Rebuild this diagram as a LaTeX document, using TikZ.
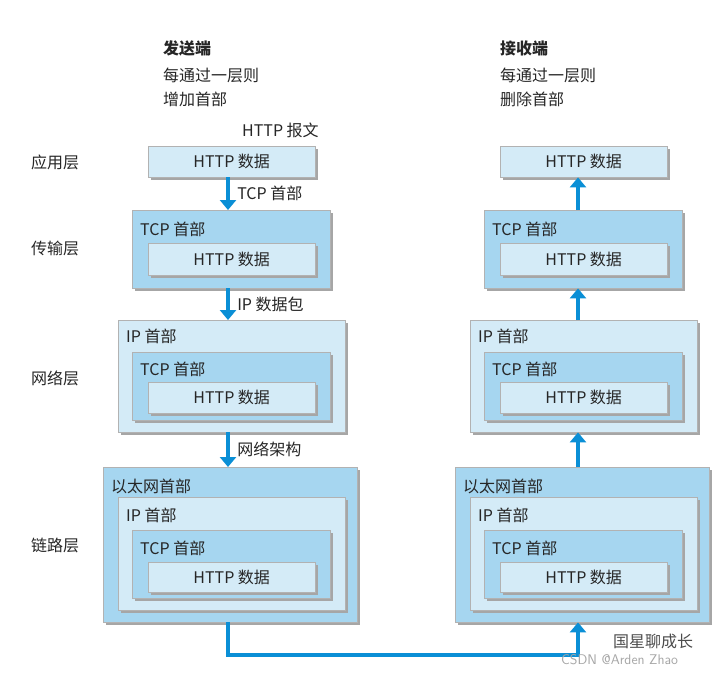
\documentclass[tikz,border=0pt]{standalone}
\usepackage{fontspec}
\newfontfamily\cjk{Noto Sans CJK SC}
\usetikzlibrary{shadows,arrows.meta}
\definecolor{pale}{HTML}{D4EBF7}
\definecolor{mid}{HTML}{A6D6F0}
\definecolor{flow}{HTML}{0A8FD6}
\tikzset{
  pkt/.style={draw=gray!60, anchor=north west, inner sep=0pt,
    drop shadow={shadow xshift=3pt, shadow yshift=-3pt, fill=gray!70, opacity=1}},
  lbl/.style={font=\cjk\fontsize{16}{18}\selectfont, text=black!85, inner sep=1pt},
  flowline/.style={draw=flow, line width=4.5pt, -{Triangle[length=10pt,width=16pt]}}
}
% \packet{name}{x}{y}{w}{h}{colour}
\newcommand{\packet}[6]{\node[pkt, fill=#6, minimum width=#4, minimum height=#5] (#1) at (#2,#3) {};}
\begin{document}
\begin{tikzpicture}[x=1pt,y=-1pt]
\useasboundingbox[fill=white] (0,0) rectangle (719,672);
% headings
\node[lbl, anchor=west, font=\cjk\bfseries\fontsize{16}{18}\selectfont] (sendh) at (162,48) {发送端};
\node[lbl, anchor=west] (send1) at (162,75) {每通过一层则};
\node[lbl, anchor=west] (send2) at (162,99) {增加首部};
\node[lbl, anchor=west, font=\cjk\bfseries\fontsize{16}{18}\selectfont] (recvh) at (499,48) {接收端};
\node[lbl, anchor=west] (recv1) at (499,75) {每通过一层则};
\node[lbl, anchor=west] (recv2) at (499,99) {删除首部};
% layer names
\node[lbl] (app) at (55,162) {应用层};
\node[lbl] (trans) at (55,248) {传输层};
\node[lbl] (net) at (55,378) {网络层};
\node[lbl] (link) at (55,545) {链路层};
% both sides
\foreach \side/\dx in {s/0, r/352} {
  % application
  \packet{\side a}{148+\dx}{146}{167pt}{31pt}{pale}
  \node[lbl] at (\side a) {HTTP 数据};
  % transport
  \packet{\side t}{132+\dx}{210}{198pt}{78pt}{mid}
  \node[lbl, anchor=west] at (139+\dx,229) {TCP 首部};
  \packet{\side th}{148+\dx}{243}{167pt}{32pt}{pale}
  \node[lbl] at (\side th) {HTTP 数据};
  % network
  \packet{\side n}{118+\dx}{320}{227pt}{112pt}{pale}
  \node[lbl, anchor=west] at (125+\dx,336) {IP 首部};
  \packet{\side nt}{132+\dx}{352}{198pt}{68pt}{mid}
  \node[lbl, anchor=west] at (139+\dx,369) {TCP 首部};
  \packet{\side nh}{148+\dx}{382}{167pt}{31pt}{pale}
  \node[lbl] at (\side nh) {HTTP 数据};
  % link
  \packet{\side l}{103+\dx}{467}{254pt}{155pt}{mid}
  \node[lbl, anchor=west] at (110+\dx,486) {以太网首部};
  \packet{\side li}{118+\dx}{497}{227pt}{113pt}{pale}
  \node[lbl, anchor=west] at (125+\dx,515) {IP 首部};
  \packet{\side lt}{132+\dx}{530}{198pt}{68pt}{mid}
  \node[lbl, anchor=west] at (139+\dx,548) {TCP 首部};
  \packet{\side lh}{148+\dx}{562}{167pt}{30pt}{pale}
  \node[lbl] at (\side lh) {HTTP 数据};
}
\node[lbl, anchor=west] (msg) at (241,130) {HTTP 报文};
% sending flow
\draw[flowline] (sa.south -| 228,0) -- (st.north -| 228,0) node[lbl, midway, right=6pt] {TCP 首部};
\draw[flowline] (st.south -| 228,0) -- (sn.north -| 228,0) node[lbl, midway, right=6pt] {IP 数据包};
\draw[flowline] (sn.south -| 228,0) -- (sl.north -| 228,0) node[lbl, midway, right=6pt] {网络架构};
% receiving flow
\draw[flowline] (rl.north -| 578,0) -- (rn.south -| 578,0);
\draw[flowline] (rn.north -| 578,0) -- (rt.south -| 578,0);
\draw[flowline] (rt.north -| 578,0) -- (ra.south -| 578,0);
\coordinate (bl) at (228,655);
\coordinate (br) at (578,655);
\draw[flowline] (sl.south -| bl) -- (bl) -- (br) -- (rl.south -| br);
% watermark
\node[lbl, anchor=west, text=black!70] (wm) at (612,641) {国星聊成长};
\node[anchor=west, text=gray!70, font=\sffamily\fontsize{14}{15}\selectfont, inner sep=1pt] (csdn) at (560,660) {CSDN @Arden Zhao};
\end{tikzpicture}
\end{document}
